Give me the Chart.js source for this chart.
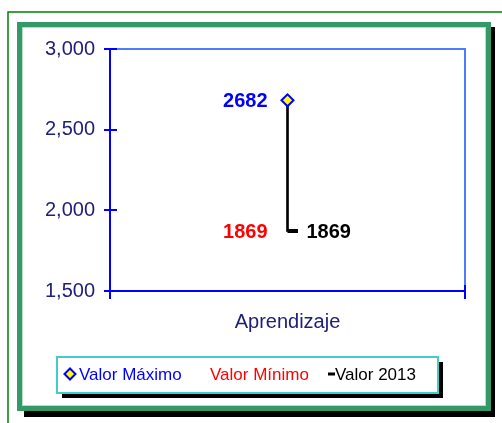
<!DOCTYPE html>
<html>
<head>
<meta charset="utf-8">
<script src="https://cdn.jsdelivr.net/npm/chart.js@4.4.1/dist/chart.umd.min.js"></script>
<style>
  html, body { margin: 0; padding: 0; background: #fff; }
  #wrap { width: 502px; height: 423px; }
</style>
</head>
<body>
<div id="wrap"><canvas id="chart" width="502" height="423"></canvas></div>
<script>
const categories = ["Aprendizaje"];
const maxValues = [2682];
const minValues = [1869];
const yearValues = [1869];
const seriesLabels = ["Valor Máximo", "Valor Mínimo", "Valor 2013"];
const yTicks = [1500, 2000, 2500, 3000];

const FONT = "Arial, 'Liberation Sans', sans-serif";
const NAVY = "#20207a";
const BLUE = "#0000ff";

// dash to the right of the line, like the close mark of a stock chart
const closeMark = document.createElement("canvas");
closeMark.width = 20;
closeMark.height = 4;
closeMark.getContext("2d").fillStyle = "#000";
closeMark.getContext("2d").fillRect(10, 0, 10, 4);

const frame = {
  id: "frame",
  beforeDraw(chart) {
    const ctx = chart.ctx;
    ctx.save();
    ctx.fillStyle = "#fff";
    ctx.fillRect(0, 0, chart.width, chart.height);
    // thin outer green line
    ctx.strokeStyle = "#008000";
    ctx.lineWidth = 1.5;
    ctx.beginPath();
    ctx.moveTo(8, 423);
    ctx.lineTo(8, 12);
    ctx.lineTo(502, 12);
    ctx.stroke();
    // thick frame with black shadow
    ctx.fillStyle = "#000";
    ctx.fillRect(24, 27, 471, 390);
    ctx.fillStyle = "#fff";
    ctx.fillRect(17, 22, 474, 389);
    ctx.strokeStyle = "#339966";
    ctx.lineWidth = 5;
    ctx.strokeRect(19.5, 24.5, 469, 384);
    ctx.strokeStyle = "#b8dcc8";
    ctx.lineWidth = 1;
    ctx.strokeRect(22.5, 27.5, 463, 378);
    ctx.restore();
  },
  afterDraw(chart) {
    const ctx = chart.ctx;
    const a = chart.chartArea;
    const y = chart.scales.y;
    ctx.save();
    ctx.strokeStyle = "#4f7bff";
    ctx.lineWidth = 2;
    ctx.beginPath();
    ctx.moveTo(a.left, a.top);
    ctx.lineTo(a.right, a.top);
    ctx.lineTo(a.right, a.bottom);
    ctx.stroke();
    ctx.strokeStyle = BLUE;
    ctx.beginPath();
    yTicks.forEach(v => {
      const py = Math.round(y.getPixelForValue(v));
      ctx.moveTo(a.left - 6, py);
      ctx.lineTo(a.left + 7, py);
    });
    [a.left, a.right].forEach(px => {
      ctx.moveTo(Math.round(px), a.bottom - 6);
      ctx.lineTo(Math.round(px), a.bottom + 8);
    });
    ctx.moveTo(a.left, a.bottom);
    ctx.lineTo(a.right, a.bottom);
    ctx.moveTo(a.left, a.top);
    ctx.lineTo(a.left, a.bottom);
    ctx.stroke();

    // legend
    const lx = 57, ly = 357, lw = 381, lh = 36;
    ctx.fillStyle = "#000";
    ctx.fillRect(lx + 5, ly + 5, lw, lh);
    ctx.fillStyle = "#fff";
    ctx.fillRect(lx, ly, lw, lh);
    ctx.strokeStyle = "#44cccc";
    ctx.lineWidth = 2;
    ctx.strokeRect(lx, ly, lw, lh);
    const cy = ly + lh / 2 - 1;
    ctx.fillStyle = "#ffff00";
    ctx.strokeStyle = BLUE;
    ctx.lineWidth = 2;
    ctx.beginPath();
    ctx.moveTo(70, cy - 5.5);
    ctx.lineTo(75.5, cy);
    ctx.lineTo(70, cy + 5.5);
    ctx.lineTo(64.5, cy);
    ctx.closePath();
    ctx.fill();
    ctx.stroke();
    ctx.fillStyle = "#000";
    ctx.fillRect(328, cy - 1.5, 7, 3);
    ctx.font = "17px " + FONT;
    ctx.textBaseline = "middle";
    ctx.textAlign = "left";
    ctx.fillStyle = BLUE;
    ctx.fillText(seriesLabels[0], 79, cy + 1);
    ctx.fillStyle = "#ff0000";
    ctx.fillText(seriesLabels[1], 210, cy + 1);
    ctx.fillStyle = "#000";
    ctx.fillText(seriesLabels[2], 335, cy + 1);
    ctx.restore();
  }
};

const valueLabels = {
  id: "valueLabels",
  afterDatasetsDraw(chart) {
    const ctx = chart.ctx;
    ctx.save();
    ctx.font = "bold 20px " + FONT;
    ctx.textBaseline = "middle";
    chart.data.datasets.forEach((ds, i) => {
      if (!ds.valueLabel) return;
      const pt = chart.getDatasetMeta(i).data[0];
      const v = ds.data[0];
      ctx.fillStyle = ds.valueLabel.color;
      ctx.textAlign = ds.valueLabel.side === "left" ? "right" : "left";
      const dx = ds.valueLabel.side === "left" ? -20 : 19;
      ctx.fillText(String(v), pt.x + dx, pt.y + 1);
    });
    ctx.restore();
  }
};

new Chart(document.getElementById("chart"), {
  data: {
    labels: categories,
    datasets: [
      {
        type: "line",
        label: seriesLabels[0],
        data: maxValues,
        pointStyle: "rectRot",
        pointRadius: 6,
        pointBackgroundColor: "#ffff00",
        pointBorderColor: BLUE,
        pointBorderWidth: 2,
        showLine: false,
        valueLabel: { color: BLUE, side: "left" },
        order: 0
      },
      {
        type: "line",
        label: seriesLabels[1],
        data: minValues,
        pointRadius: 0,
        showLine: false,
        valueLabel: { color: "#ff0000", side: "left" },
        order: 1
      },
      {
        type: "line",
        label: seriesLabels[2],
        data: yearValues,
        pointStyle: closeMark,
        pointRadius: 10,
        showLine: false,
        valueLabel: { color: "#000", side: "right" },
        order: 2
      },
      {
        type: "bar",
        label: "rango",
        data: categories.map((_, i) => [minValues[i], maxValues[i]]),
        backgroundColor: "#000",
        barThickness: 2,
        order: 3
      }
    ]
  },
  options: {
    responsive: false,
    animation: false,
    events: [],
    layout: { padding: { left: 0, top: 49, right: 37, bottom: 0 } },
    plugins: { legend: { display: false }, tooltip: { enabled: false } },
    scales: {
      x: {
        grid: { display: false, drawTicks: false },
        border: { display: false },
        ticks: { color: NAVY, font: { size: 20, family: FONT }, padding: 19 },
        afterFit(s) { s.height = 132; }
      },
      y: {
        min: 1500,
        max: 3000,
        afterBuildTicks(s) { s.ticks = yTicks.map(v => ({ value: v })); },
        grid: { display: false, drawTicks: false },
        border: { display: false },
        ticks: { color: NAVY, font: { size: 20, family: FONT }, padding: 15 },
        afterFit(s) { s.width = 110; }
      }
    }
  },
  plugins: [frame, valueLabels]
});
</script>
</body>
</html>
